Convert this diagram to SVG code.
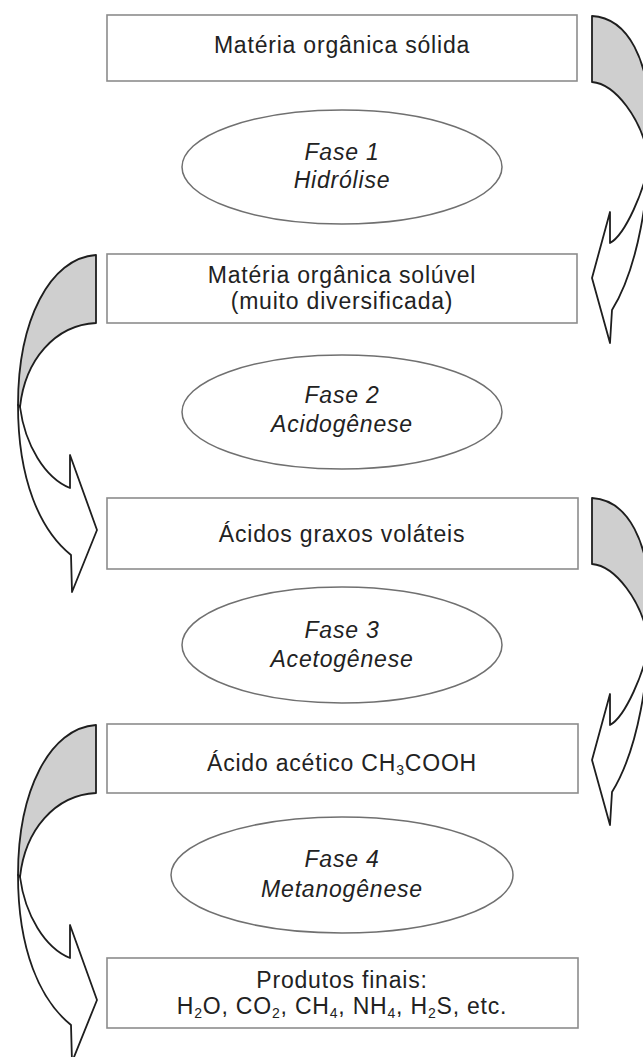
<svg xmlns="http://www.w3.org/2000/svg" width="643" height="1057" viewBox="0 0 643 1057">
<style>
.box{fill:#fff;stroke:#8c8c8c;stroke-width:1.6}
.ell{fill:#fff;stroke:#707070;stroke-width:1.5}
.t{font-family:"Liberation Sans",Arial,sans-serif;font-size:23px;fill:#222;text-anchor:middle;letter-spacing:0.8px}
.i{font-style:italic}
.sub{font-size:14px}
.back{fill:#cfcfcf;stroke:#1e1e1e;stroke-width:1.8;stroke-linejoin:round}
.front{fill:#fff;stroke:#1e1e1e;stroke-width:1.8;stroke-linejoin:round}
</style>
<rect width="643" height="1057" fill="#fff"/>
<defs>
<g id="leftArrow">
<path class="back" d="M96,255 C50,258 18,320 18,405 L20,407 C25,360 55,325 96,323 Z"/>
<path class="front" d="M18,405 C18,480 40,530 71,555 L72,592 L97,530 L70,455 L70,488 C45,478 25,445 20,407 Z"/>
</g>
<g id="rightArrow">
<path class="back" d="M592,16 C628,18 650,60 650,125 L649,160 C642,118 615,84 592,82 Z"/>
<path class="front" d="M650,125 C650,195 638,268 612,310 L610,343 L592,278 L610,212 L610,243 C625,235 645,190 649,160 Z"/>
</g>
</defs>
<g id="connectors">
<use href="#rightArrow"/>
<use href="#leftArrow"/>
<use href="#rightArrow" transform="translate(0,482)"/>
<use href="#leftArrow" transform="translate(0,470)"/>
</g>
<g id="n1">
<rect class="box" x="107" y="15" width="470" height="66"/>
<text class="t" x="342" y="53">Matéria orgânica sólida</text>
</g>
<g id="p1">
<ellipse class="ell" cx="342" cy="167" rx="160" ry="57"/>
<text class="t i" x="342" y="160">Fase 1</text>
<text class="t i" x="342" y="188">Hidrólise</text>
</g>
<g id="n2">
<rect class="box" x="107" y="254" width="470" height="69"/>
<text class="t" x="342" y="283">Matéria orgânica solúvel</text>
<text class="t" x="342" y="309">(muito diversificada)</text>
</g>
<g id="p2">
<ellipse class="ell" cx="342" cy="412" rx="160" ry="57"/>
<text class="t i" x="342" y="403">Fase 2</text>
<text class="t i" x="342" y="432">Acidogênese</text>
</g>
<g id="n3">
<rect class="box" x="107" y="498" width="471" height="71"/>
<text class="t" x="342" y="542">Ácidos graxos voláteis</text>
</g>
<g id="p3">
<ellipse class="ell" cx="342" cy="645" rx="160" ry="58"/>
<text class="t i" x="342" y="638">Fase 3</text>
<text class="t i" x="342" y="667">Acetogênese</text>
</g>
<g id="n4">
<rect class="box" x="107" y="724" width="471" height="69"/>
<text class="t" x="342" y="771">Ácido acético CH<tspan class="sub" dy="4">3</tspan><tspan dy="-4">COOH</tspan></text>
</g>
<g id="p4">
<ellipse class="ell" cx="342" cy="875" rx="171" ry="58"/>
<text class="t i" x="342" y="867">Fase 4</text>
<text class="t i" x="342" y="897">Metanogênese</text>
</g>
<g id="n5">
<rect class="box" x="107" y="958" width="471" height="70"/>
<text class="t" x="342" y="988">Produtos finais:</text>
<text class="t" x="342" y="1014">H<tspan class="sub" dy="4">2</tspan><tspan dy="-4">O, CO</tspan><tspan class="sub" dy="4">2</tspan><tspan dy="-4">, CH</tspan><tspan class="sub" dy="4">4</tspan><tspan dy="-4">, NH</tspan><tspan class="sub" dy="4">4</tspan><tspan dy="-4">, H</tspan><tspan class="sub" dy="4">2</tspan><tspan dy="-4">S, etc.</tspan></text>
</g>
</svg>
